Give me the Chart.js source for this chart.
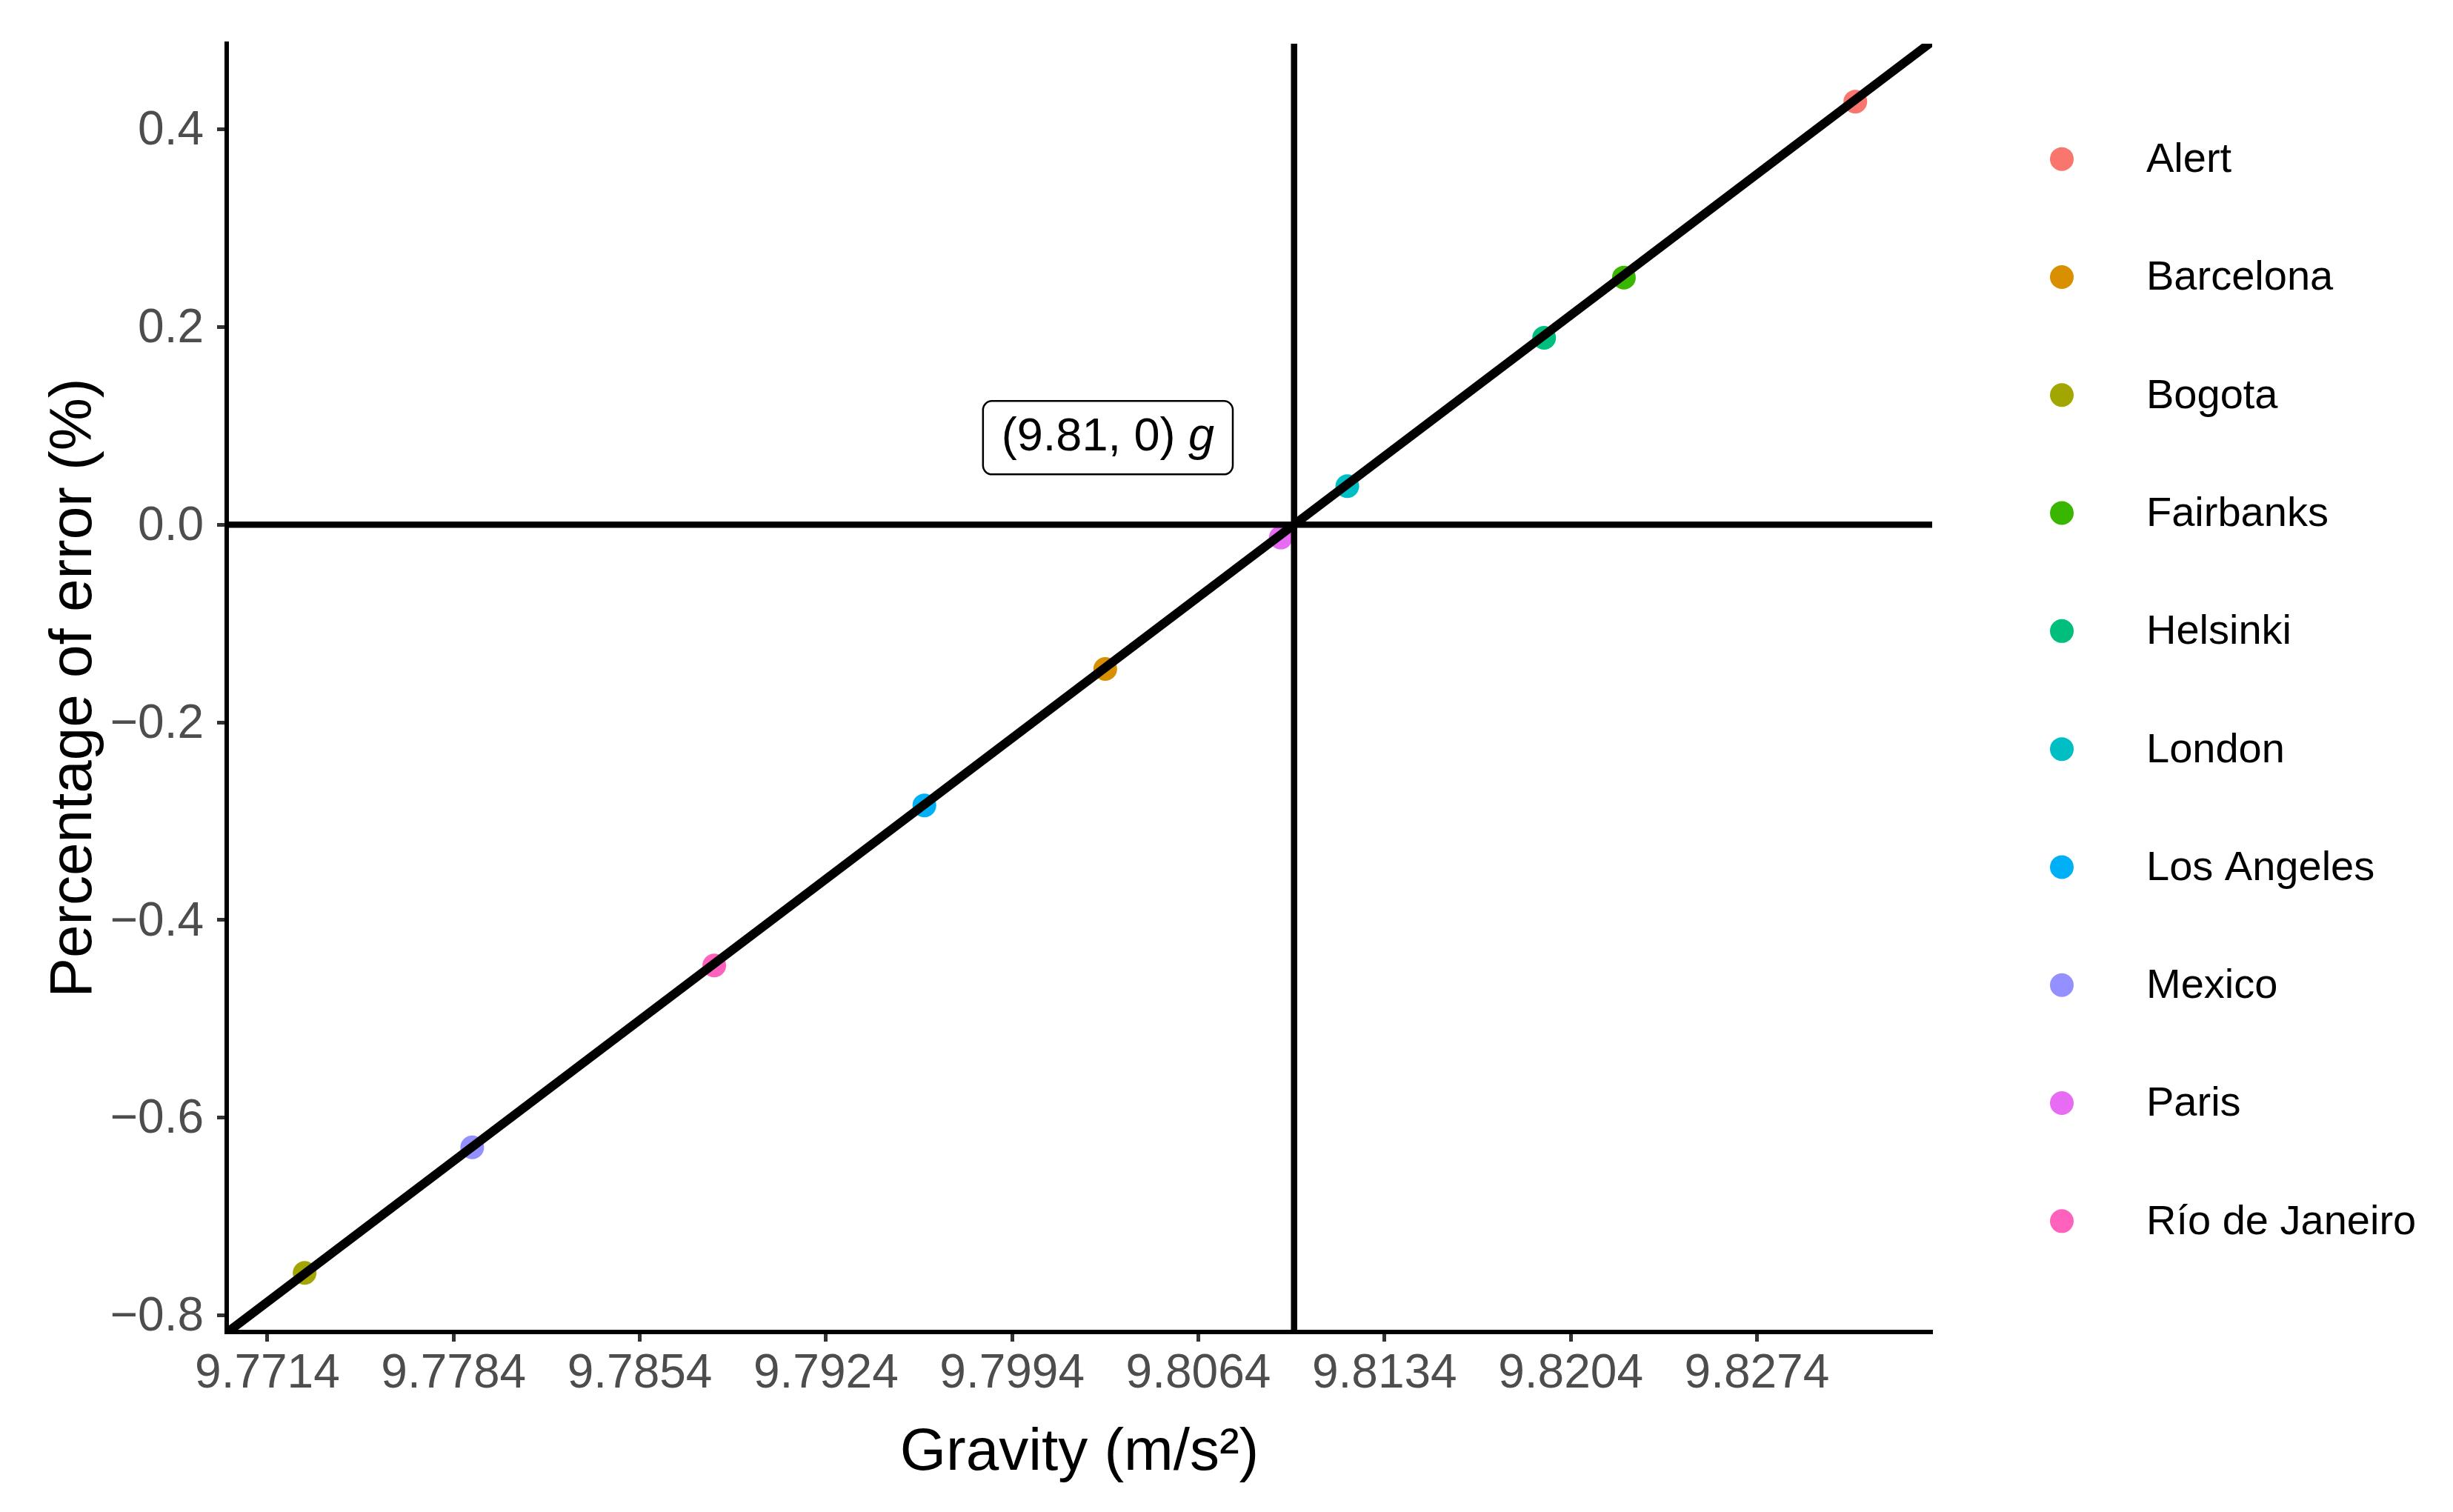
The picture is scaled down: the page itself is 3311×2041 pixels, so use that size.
<!DOCTYPE html>
<html>
<head>
<meta charset="utf-8">
<title>Gravity vs percentage of error</title>
<script src="https://cdn.jsdelivr.net/npm/chart.js@4.4.1/dist/chart.umd.min.js"></script>
<style>
    body { margin: 0; background: #fff; }
    #contenedor { width: 3311px; height: 2041px; }
</style>
</head>
<body>
<div id="contenedor"><canvas id="miGrafico"></canvas></div>
<script>
// Datos
const ciudades = ['Alert', 'Barcelona', 'Bogota', 'Fairbanks', 'Helsinki', 'London', 'Los Angeles', 'Mexico', 'Paris', 'Río de Janeiro'];
const gravedad = [9.8311, 9.8029, 9.7728, 9.8224, 9.8194, 9.8120, 9.7961, 9.7791, 9.8095, 9.7882];
const errorPct = [0.428, -0.146, -0.757, 0.250, 0.189, 0.039, -0.284, -0.630, -0.013, -0.446];
const colores = ['#F8766D', '#D89000', '#A3A500', '#39B600', '#00BF7D', '#00BFC4', '#00B0F6', '#9590FF', '#E76BF3', '#FF62BC'];

const rectaX = [9.7699, 9.8340];
const rectaY = [-0.817, 0.489];

// Referencias: g = 9.81 y error 0
const gRef = 9.81;
const errorRef = 0;

// Limites de los ejes
const xMin = 9.76987, xMax = 9.83399;
const yMin = -0.8168, yMax = 0.4866;

// Marcas de los ejes
const xTicks = [9.7714, 9.7784, 9.7854, 9.7924, 9.7994, 9.8064, 9.8134, 9.8204, 9.8274];
const xEtiquetas = ['9.7714', '9.7784', '9.7854', '9.7924', '9.7994', '9.8064', '9.8134', '9.8204', '9.8274'];
const yTicks = [-0.8, -0.6, -0.4, -0.2, 0, 0.2, 0.4];
const yEtiquetas = ['\u22120.8', '\u22120.6', '\u22120.4', '\u22120.2', '0.0', '0.2', '0.4'];

// Etiqueta del punto de referencia
const etiquetaX = 9.803;
const etiquetaY = 0.088;
const etiquetaTexto = '(9.81, 0) ';
const etiquetaVar = 'g';

const fuente = 'Liberation Sans';
Chart.defaults.font.family = fuente;

// Leyenda a la derecha, estilo ggplot
const leyendaPlugin = {
    id: 'leyendaDerecha',
    afterDraw(chart) {
        const ctx = chart.ctx;
        const area = chart.chartArea;
        const paso = 159.3;
        const y0 = (area.top + area.bottom) / 2 - paso * (ciudades.length - 1) / 2 + 3;
        ctx.save();
        ctx.font = '56px "' + fuente + '"';
        ctx.textBaseline = 'middle';
        ctx.textAlign = 'left';
        ciudades.forEach((nombre, i) => {
            const y = y0 + i * paso;
            ctx.beginPath();
            ctx.arc(area.right + 175, y, 16, 0, Math.PI * 2);
            ctx.fillStyle = colores[i];
            ctx.fill();
            ctx.fillStyle = '#000';
            ctx.fillText(nombre, area.right + 289, y + 2);
        });
        ctx.restore();
    }
};

// Caja con el texto "(9.81, 0) g"
const etiquetaPlugin = {
    id: 'etiquetaRef',
    afterDatasetsDraw(chart) {
        const ctx = chart.ctx;
        const cx = chart.scales.x.getPixelForValue(etiquetaX);
        const cy = chart.scales.y.getPixelForValue(etiquetaY);
        const normal = '63px "' + fuente + '"';
        const italica = 'italic 63px "' + fuente + '"';
        ctx.save();
        ctx.font = normal;
        const w1 = ctx.measureText(etiquetaTexto).width;
        ctx.font = italica;
        const w2 = ctx.measureText(etiquetaVar).width;
        const ancho = w1 + w2 + 50;
        const alto = 99;
        const x0 = cx - ancho / 2, yTop = cy - alto / 2;
        ctx.beginPath();
        ctx.roundRect(x0, yTop, ancho, alto, 12);
        ctx.fillStyle = '#fff';
        ctx.fill();
        ctx.lineWidth = 2.5;
        ctx.strokeStyle = '#000';
        ctx.stroke();
        ctx.fillStyle = '#000';
        ctx.textBaseline = 'middle';
        ctx.textAlign = 'left';
        ctx.font = normal;
        ctx.fillText(etiquetaTexto, x0 + 25, cy);
        ctx.font = italica;
        ctx.fillText(etiquetaVar, x0 + 25 + w1, cy);
        ctx.restore();
    }
};

const puntos = ciudades.map((nombre, i) => ({
    label: nombre,
    data: [{ x: gravedad[i], y: errorPct[i] }],
    backgroundColor: colores[i],
    borderWidth: 0,
    pointRadius: 16,
    pointHoverRadius: 16,
    order: 3
}));

const lineas = [
    {
        label: 'ajuste',
        data: rectaX.map((x, i) => ({ x: x, y: rectaY[i] })),
        showLine: true, pointRadius: 0, borderColor: '#000', borderWidth: 12, order: 0
    },
    {
        label: 'g ref',
        data: [{ x: gRef, y: yMin }, { x: gRef, y: yMax }],
        showLine: true, pointRadius: 0, borderColor: '#000', borderWidth: 8.5, order: 1
    },
    {
        label: 'error ref',
        data: [{ x: xMin, y: errorRef }, { x: xMax, y: errorRef }],
        showLine: true, pointRadius: 0, borderColor: '#000', borderWidth: 8.5, order: 1
    }
];

const ctx = document.getElementById('miGrafico').getContext('2d');
const miGrafico = new Chart(ctx, {
    type: 'scatter',
    data: { datasets: puntos.concat(lineas) },
    options: {
        responsive: true,
        maintainAspectRatio: false,
        devicePixelRatio: 1,
        animation: false,
        layout: { padding: { top: 59, right: 703, left: 0, bottom: 0 } },
        plugins: {
            legend: { display: false },
            tooltip: { enabled: false }
        },
        scales: {
            x: {
                type: 'linear',
                min: xMin,
                max: xMax,
                afterFit: (scale) => { scale.height = 243; },
                afterBuildTicks: (scale) => { scale.ticks = xTicks.map(v => ({ value: v })); },
                ticks: {
                    callback: (v, i) => xEtiquetas[i],
                    color: '#4D4D4D',
                    font: { size: 64 },
                    padding: 6,
                    maxRotation: 0,
                    autoSkip: false
                },
                grid: { drawOnChartArea: false, drawTicks: true, tickLength: 13, tickColor: '#333333', tickWidth: 5 },
                border: { display: true, color: '#000', width: 6 },
                title: {
                    display: true,
                    text: 'Gravity (m/s²)',
                    color: '#000',
                    font: { size: 80 },
                    padding: { top: 0, bottom: 31 }
                }
            },
            y: {
                type: 'linear',
                min: yMin,
                max: yMax,
                afterFit: (scale) => { scale.width = 306; },
                afterBuildTicks: (scale) => { scale.ticks = yTicks.map(v => ({ value: v })); },
                ticks: {
                    callback: (v, i) => yEtiquetas[i],
                    color: '#4D4D4D',
                    font: { size: 64 },
                    padding: 18,
                    labelOffset: 3
                },
                grid: { drawOnChartArea: false, drawTicks: true, tickLength: 13, tickColor: '#333333', tickWidth: 5 },
                border: { display: true, color: '#000', width: 6 },
                title: {
                    display: true,
                    text: 'Percentage of error (%)',
                    color: '#000',
                    font: { size: 80 },
                    padding: { top: 53, bottom: 0 }
                }
            }
        }
    },
    plugins: [leyendaPlugin, etiquetaPlugin]
});
</script>
</body>
</html>
